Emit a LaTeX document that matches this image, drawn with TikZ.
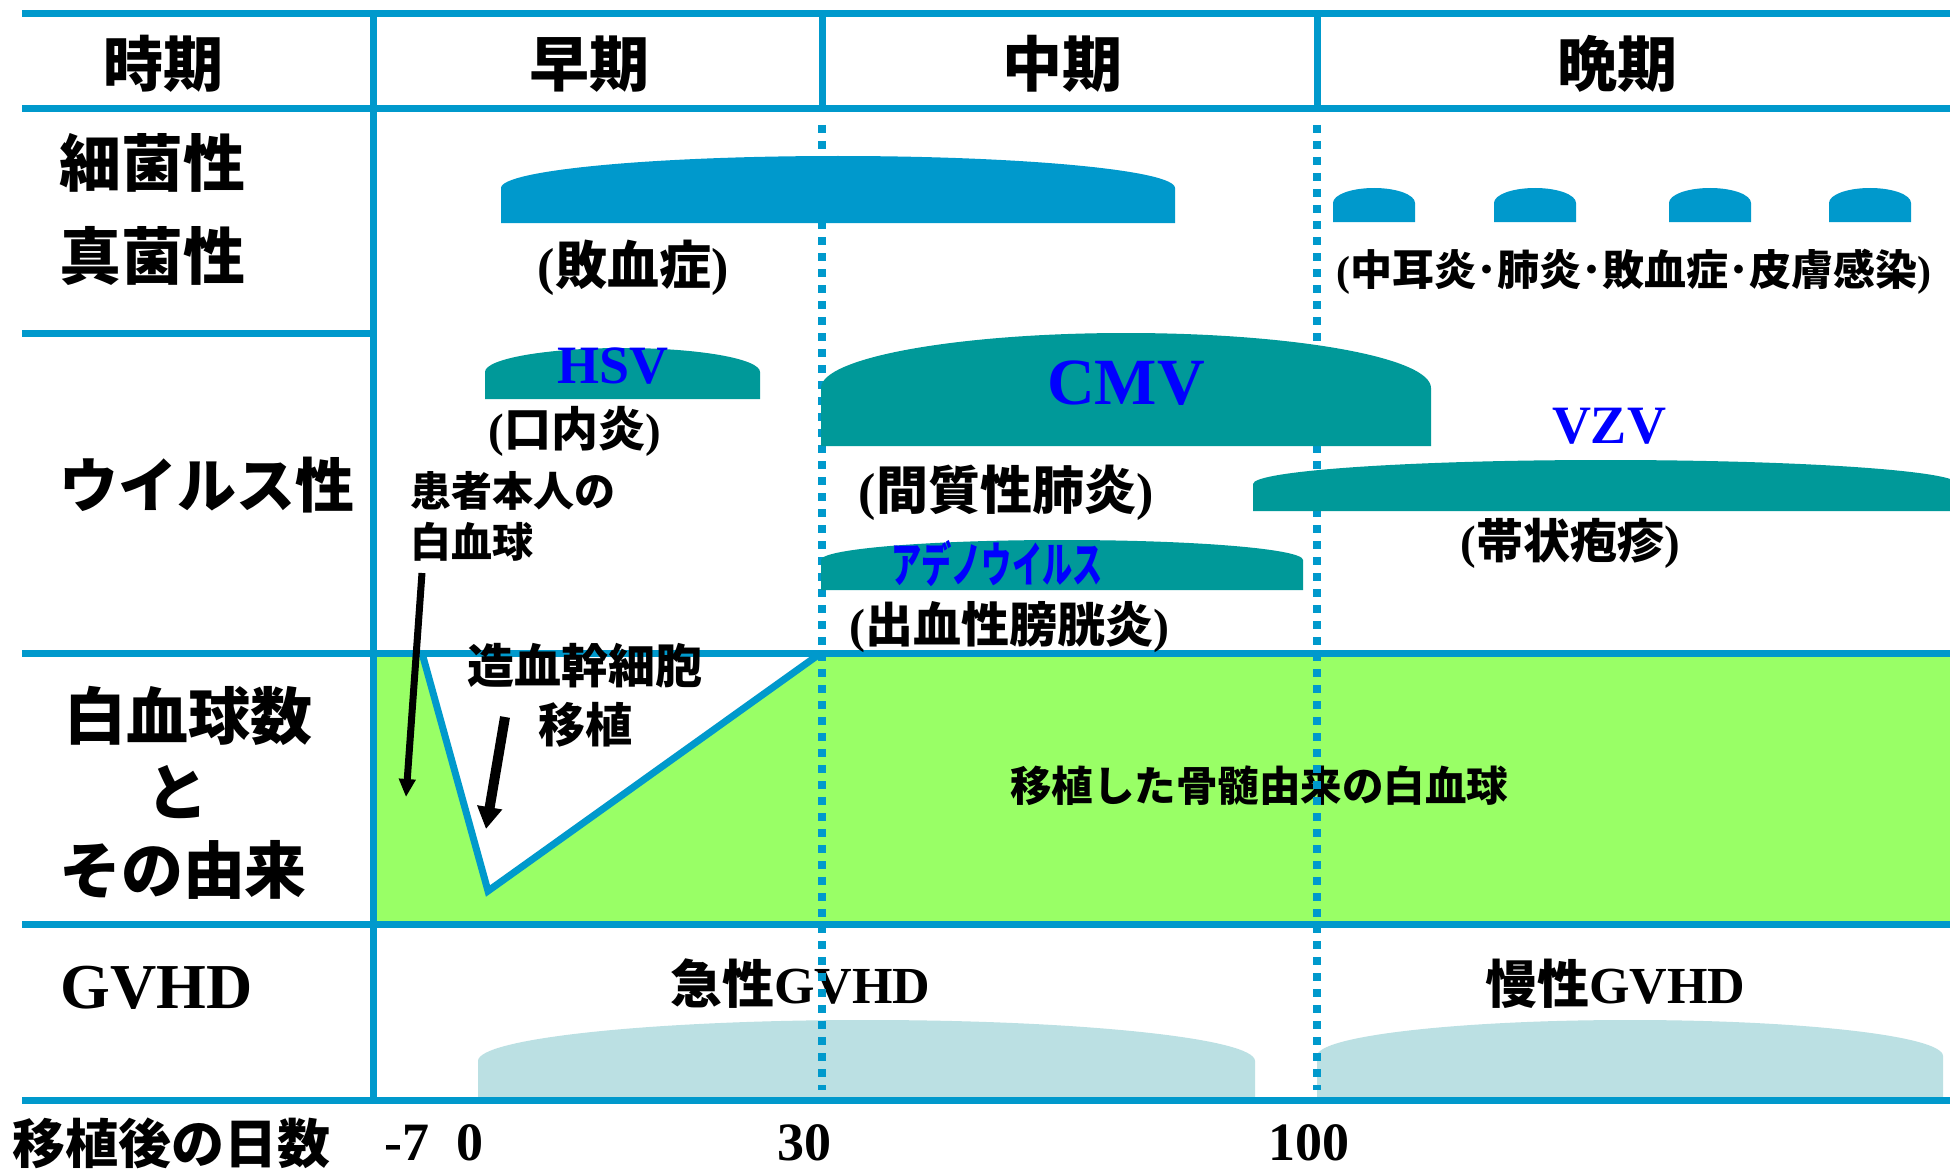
\documentclass[tikz,border=0pt]{standalone}
\usepackage{fontspec}
\usepackage{graphicx}
\setmainfont{Liberation Serif}
\newfontfamily\jp{Noto Sans CJK JP}
\usetikzlibrary{arrows.meta}
\definecolor{lineblue}{RGB}{0,153,204}
\definecolor{tealc}{RGB}{0,153,153}
\definecolor{wgreen}{RGB}{153,255,102}
\definecolor{gvblue}{RGB}{187,224,227}
\definecolor{txtblue}{RGB}{0,0,255}
\newcommand\fsz[1]{\fontsize{#1pt}{#1pt}\selectfont}
\newcommand\lpar{{\rmfamily(}}
\newcommand\rpar{{\rmfamily)}}
% dome: x0, x1, ytop, yside, ybottom, colour
\newcommand\domeshape[6]{%
  \pgfmathsetmacro\dmxc{(#1+#2)/2}%
  \pgfmathsetmacro\dmka{0.5523*(#2-#1)/2}%
  \pgfmathsetmacro\dmys{#4-0.5523*(#4-#3)}%
  \fill[#6] (#1,#5) -- (#1,#4) .. controls (#1,\dmys) and (\dmxc-\dmka,#3) .. (\dmxc,#3)
    .. controls (\dmxc+\dmka,#3) and (#2,\dmys) .. (#2,#4) -- (#2,#5) -- cycle;}
\begin{document}
\begin{tikzpicture}[x=0.5pt,y=-0.5pt,
  jt/.style={inner sep=0pt, font={\jp\bfseries\fsz{#1}}},
  lt/.style={inner sep=0pt, font={\rmfamily\bfseries\fsz{#1}}},
  grid/.style={draw=lineblue, line width=3.5pt},
  dots/.style={draw=lineblue, line width=4pt, dash pattern=on 4pt off 4pt},
  wbc/.style={draw=lineblue, line width=3.5pt, line join=miter},
  ptr/.style={draw=black, line width=#1}]
\useasboundingbox (0,0) rectangle (1950,1172);
\fill[white] (0,0) rectangle (1950,1172);

% green area
\fill[wgreen] (373,653) -- (422,653) -- (488,891) -- (821,653) -- (1950,653) -- (1950,924) -- (373,924) -- cycle;

% GVHD domes
\domeshape{478}{1255}{1020}{1061}{1097}{gvblue}
\domeshape{1317}{1943}{1020}{1056}{1097}{gvblue}

% grid lines
\draw[grid] (22,13.5) -- (1950,13.5);
\draw[grid] (22,109) -- (1950,109);
\draw[grid] (22,333) -- (373,333);
\draw[grid] (22,653) -- (1950,653);
\draw[grid] (22,924) -- (1950,924);
\draw[grid] (22,1100) -- (1950,1100);
\draw[grid] (373,12) -- (373,1101);
\draw[grid] (822,12) -- (822,110);
\draw[grid] (1317,12) -- (1317,110);

% WBC curve
\draw[wbc] (422,653) -- (488,891) -- (821,653);

% texts
\node[jt=30] (hjiki) at (163,64) {時期};
\node[jt=30] (hsouki) at (589,64) {早期};
\node[jt=30] (hchuki) at (1062,64) {中期};
\node[jt=30] (hbanki) at (1617,64) {晩期};
\node[jt=31,anchor=west] (lsaikin) at (59,163) {細菌性};
\node[jt=31,anchor=west] (lshinkin) at (59,256) {真菌性};
\node[jt=29.5,anchor=west] (lvirus) at (59,485) {ウイルス性};
\node[jt=31] (lwbca) at (188,716) {白血球数};
\node[jt=31] (lwbcb) at (177,792) {と};
\node[jt=31] (lwbcc) at (183,870) {その由来};
\node[lt=32,anchor=west] (lgvhd) at (60,988) {GVHD};
\node[jt=26.5,anchor=west] (lday) at (12,1143) {移植後の日数};
\node[lt=27] (dmseven) at (407,1143) {-7};
\node[lt=27] (dzero) at (470,1143) {0};
\node[lt=27] (dthirty) at (804,1143) {30};
\node[lt=27] (dhundred) at (1309,1143) {100};

\node[jt=26] (tsepsis) at (633,268) {\lpar 敗血症\rpar};
\node[jt=21] (tlate) at (1634,272) {\lpar 中耳炎･肺炎･敗血症･皮膚感染\rpar};
\node[jt=23.5] (tmouth) at (575,431) {\lpar 口内炎\rpar};
\node[jt=26] (tlung) at (1006,493) {\lpar 間質性肺炎\rpar};
\node[jt=20.5,anchor=west] (tpata) at (410,491) {患者本人の};
\node[jt=20.5,anchor=west] (tpatb) at (410,542) {白血球};
\node[jt=24] (tblad) at (1009,627) {\lpar 出血性膀胱炎\rpar};
\node[jt=23.5] (tzoster) at (1570,543) {\lpar 帯状疱疹\rpar};
\node[jt=23.5] (tstema) at (585,666) {造血幹細胞};
\node[jt=23.5] (tstemb) at (585,725) {移植};
\node[jt=20.75] (tdonor) at (1259,786) {移植した骨髄由来の白血球};
\node[jt=26] (tacute) at (800,984) {急性{\rmfamily GVHD}};
\node[jt=26] (tchron) at (1615,984) {慢性{\rmfamily GVHD}};
\node[lt=27,text=txtblue] (tvzv) at (1609,426) {VZV};

% dotted period lines
\draw[dots] (822,125) -- (822,1090);
\draw[dots] (1317,125) -- (1317,1090);

% infection domes
\domeshape{501}{1175}{156}{188}{223}{lineblue}
\domeshape{1333}{1415}{188}{203}{222}{lineblue}
\domeshape{1494}{1576}{188}{203}{222}{lineblue}
\domeshape{1669}{1751}{188}{203}{222}{lineblue}
\domeshape{1829}{1911}{188}{203}{222}{lineblue}
\domeshape{485}{760}{348}{372}{399}{tealc}
\domeshape{821}{1431}{333}{388}{446}{tealc}
\domeshape{821}{1303}{540}{560}{590}{tealc}
\domeshape{1253}{1958}{460}{484}{511}{tealc}

\node[lt=27,text=txtblue] (thsv) at (613,366) {HSV};
\node[lt=33,text=txtblue] (tcmv) at (1126,383) {CMV};
\node[jt=24,text=txtblue] (tadeno) at (997,564) {\scalebox{0.63}[1]{アデノウイルス}};

% arrows
\coordinate (aones) at (422,573);
\coordinate (aonee) at (406,797);
\coordinate (atwos) at (505,717);
\coordinate (atwoe) at (486,829);
\draw[ptr=3.5pt, -{Triangle[length=9pt,width=8pt]}] (aones) -- (aonee);
\draw[ptr=5pt, -{Triangle[length=11pt,width=12pt]}] (atwos) -- (atwoe);
\end{tikzpicture}
\end{document}
